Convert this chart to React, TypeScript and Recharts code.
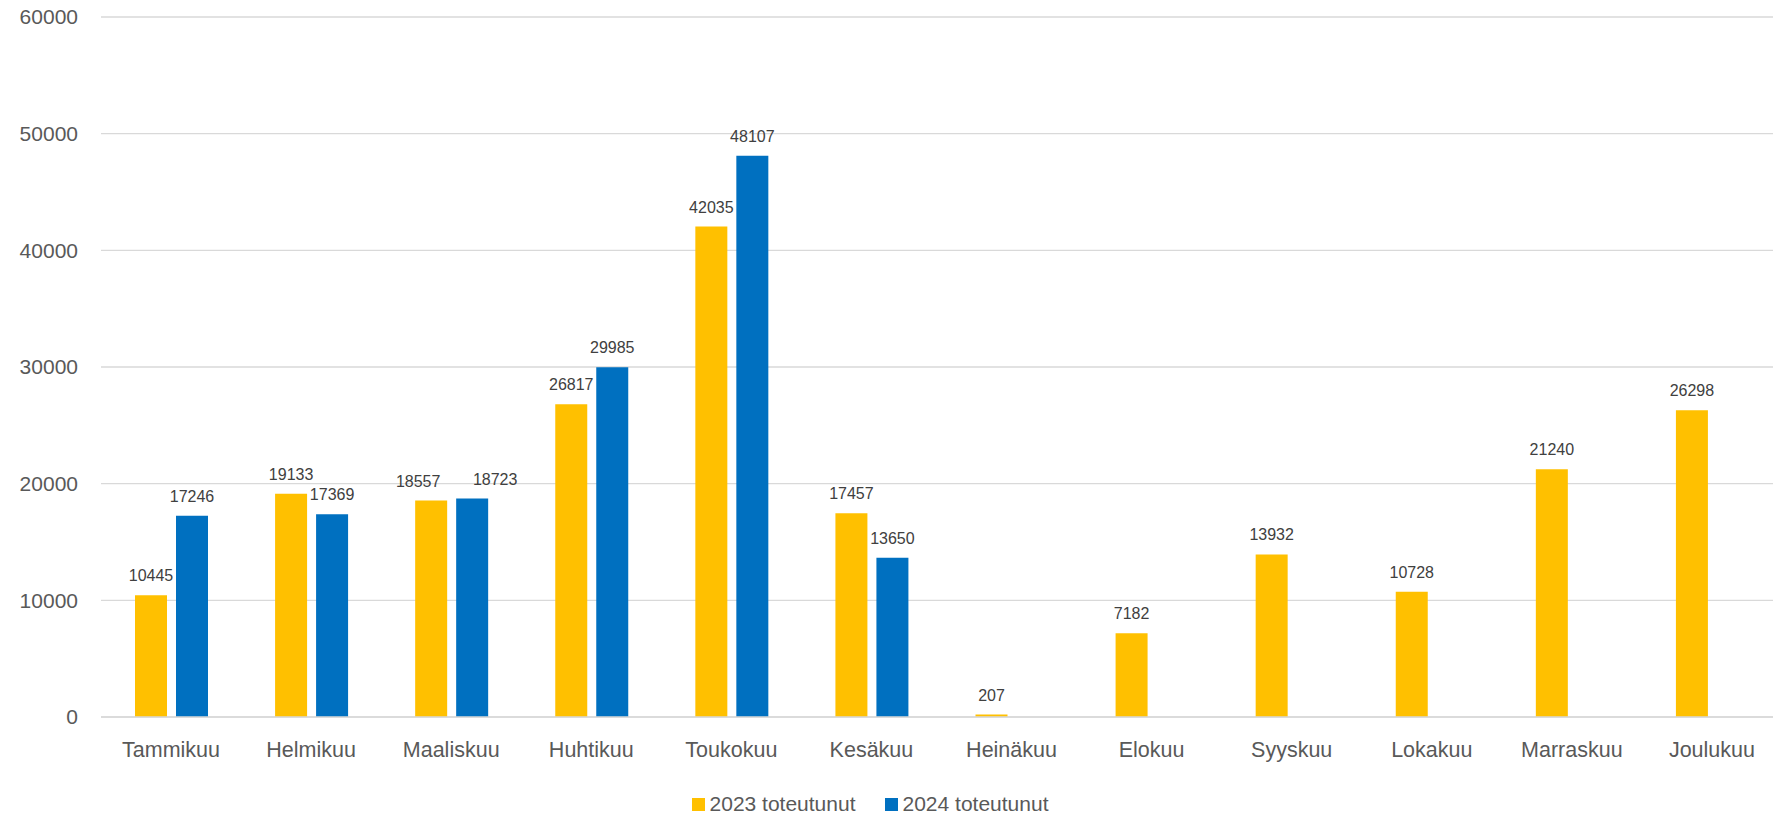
import React from 'react';
import { BarChart, Bar, XAxis, YAxis, CartesianGrid, Legend, LabelList } from 'recharts';

const MONTHS = [
  'Tammikuu', 'Helmikuu', 'Maaliskuu', 'Huhtikuu', 'Toukokuu', 'Kesäkuu',
  'Heinäkuu', 'Elokuu', 'Syyskuu', 'Lokakuu', 'Marraskuu', 'Joulukuu',
];
const ACTUAL_2023 = [10445, 19133, 18557, 26817, 42035, 17457, 207, 7182, 13932, 10728, 21240, 26298];
const ACTUAL_2024: (number | null)[] = [17246, 17369, 18723, 29985, 48107, 13650, null, null, null, null, null, null];
const Y_TICKS = [0, 10000, 20000, 30000, 40000, 50000, 60000];
const Y_MAX = 60000;

const SERIES = [
  { key: 'y2023', name: '2023 toteutunut', color: '#FFC000' },
  { key: 'y2024', name: '2024 toteutunut', color: '#0070C0' },
];

const data = MONTHS.map((m, i) => ({ month: m, y2023: ACTUAL_2023[i], y2024: ACTUAL_2024[i] }));

const FONT = '"Liberation Sans", Arial, sans-serif';
const PLOT_H = 700;

const renderLegend = () => (
  <div style={{ display: 'flex', justifyContent: 'center', paddingRight: 42, height: 24, alignItems: 'center', fontFamily: FONT, fontSize: 21, color: '#595959' }}>
    {SERIES.map((s, i) => (
      <div key={s.key} style={{ display: 'flex', alignItems: 'center', marginLeft: i ? 29 : 0 }}>
        <span style={{ width: 13, height: 13, background: s.color, display: 'inline-block', marginRight: 5 }} />
        <span>{s.name}</span>
      </div>
    ))}
  </div>
);

// labels of the two bars in a month sit side by side when their heights are close,
// so push them apart like Excel does
const makeLabel = (seriesIdx: number) => (props: any) => {
  const { x, y, width, value, index } = props;
  if (value == null) return null;
  const a = ACTUAL_2023[index];
  const b = ACTUAL_2024[index];
  let dx = 0;
  if (a != null && b != null && (Math.abs(a - b) / Y_MAX) * PLOT_H < 18) {
    dx = seriesIdx === 0 ? -13 : 23;
  }
  return (
    <text x={x + width / 2 + dx} y={y - 14} textAnchor="middle" fill="#404040" fontSize={16} fontFamily={FONT}>
      {value}
    </text>
  );
};

export default function App() {
  return (
    <div style={{ position: 'absolute', left: 0, top: 0, width: 1773, height: 816, overflow: 'hidden', background: '#fff' }}>
      <BarChart
        width={1782}
        height={816}
        data={data}
        margin={{ top: 17, right: 0, left: 0, bottom: 0 }}
        barSize={32}
        barGap={9}
      >
        <CartesianGrid vertical={false} stroke="#D9D9D9" strokeWidth={1.3} />
        <XAxis
          dataKey="month"
          height={75}
          axisLine={{ stroke: '#D9D9D9', strokeWidth: 1.3 }}
          tickLine={false}
          tickMargin={19}
          interval={0}
          tick={{ fill: '#595959', fontSize: 21.5, fontFamily: FONT }}
        />
        <YAxis
          width={101}
          domain={[0, Y_MAX]}
          ticks={Y_TICKS}
          axisLine={false}
          tickLine={false}
          tickMargin={17}
          tick={{ fill: '#595959', fontSize: 21, fontFamily: FONT }}
        />
        <Legend verticalAlign="bottom" content={renderLegend} />
        {SERIES.map((s, si) => (
          <Bar key={s.key} dataKey={s.key} name={s.name} fill={s.color} isAnimationActive={false}>
            <LabelList dataKey={s.key} content={makeLabel(si)} />
          </Bar>
        ))}
      </BarChart>
    </div>
  );
}
